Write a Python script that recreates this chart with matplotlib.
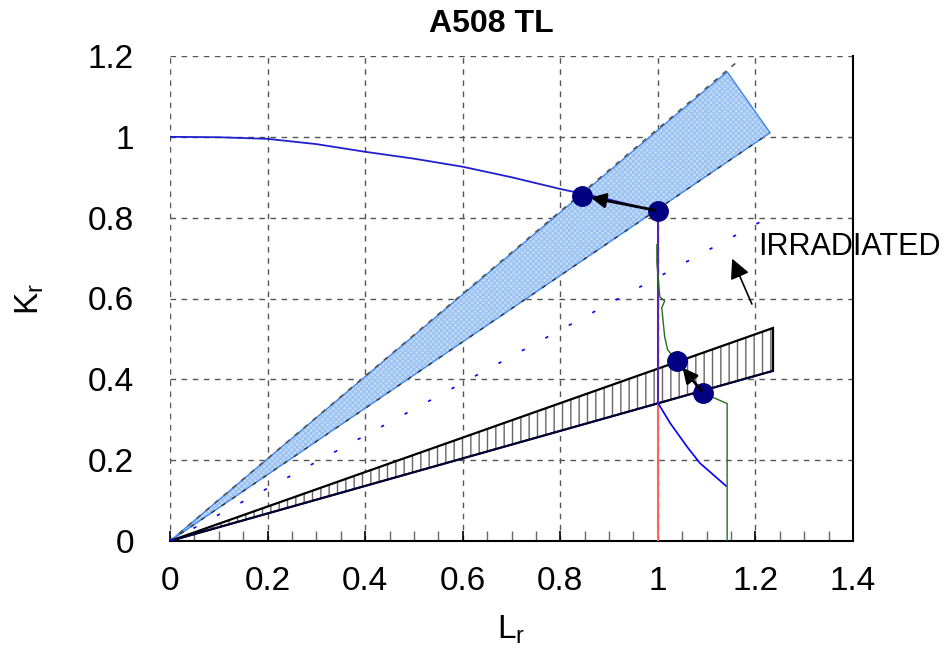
import matplotlib
matplotlib.use("Agg")
import matplotlib.pyplot as plt
import numpy as np

plt.rcParams['font.family'] = ['Liberation Sans', 'DejaVu Sans']
plt.rcParams['hatch.linewidth'] = 1.0

# FAD curve (option curve)
fad_L = [0.0, 0.1, 0.2, 0.3, 0.4, 0.5, 0.6, 0.7, 0.8, 0.9, 1.0]
fad_K = [1.0, 0.999, 0.995, 0.982, 0.963, 0.946, 0.926, 0.90, 0.871, 0.845, 0.815]
# vertical cut-off at Lr = 1
cut_L = [1.0, 1.0]
cut_K = [0.815, 0.342]
red_L = [1.0, 1.0]
red_K = [0.342, 0.0]
# lower branch beyond Lr = 1
tail_L = [1.0, 1.025, 1.06, 1.086, 1.121, 1.14]
tail_K = [0.342, 0.292, 0.233, 0.193, 0.156, 0.136]
# green path
green_L = [0.998, 0.998, 1.004, 1.014, 1.008, 1.014, 1.020, 1.039, 1.093, 1.142, 1.142]
green_K = [0.733, 0.688, 0.604, 0.594, 0.577, 0.505, 0.473, 0.446, 0.366, 0.340, 0.0]
# blue wedge (unirradiated load band)
wedge_L = [0.0, 1.142, 1.23]
wedge_K = [0.0, 1.161, 1.01]
wedge_top_L = [0.0, 1.167]
wedge_top_K = [0.0, 1.19]
# black hatched band
band_L = [0.0, 1.236, 1.236]
band_K = [0.0, 0.527, 0.421]
# irradiated dotted line
irr_L = [0.0, 1.226]
irr_K = [0.0, 0.80]
# assessment points
pts_L = [0.845, 1.0, 1.039, 1.093]
pts_K = [0.854, 0.817, 0.446, 0.366]

fig = plt.figure(figsize=(9.46, 6.57), dpi=100)
ax = fig.add_axes([170/946, 1-541/657, (853-170)/946, (541-56)/657])

# blue wedge: fill + fine light hatch + outline
ax.fill(wedge_L, wedge_K, facecolor='#c2dbf7', edgecolor='#9cc2f2', hatch='xxxxxx', linewidth=0, zorder=2)
ax.fill(wedge_L, wedge_K, facecolor='none', edgecolor='#3f86ee', linewidth=1.0, zorder=2)
ax.plot(wedge_top_L, wedge_top_K, color='#555555', linestyle=(0, (3, 4)), linewidth=1.2, zorder=3)
ax.plot([0, 1.23], [0, 1.01], color='#333333', linestyle=(0, (3, 6)), linewidth=1.0, zorder=3)

# black hatched band
ax.fill(band_L, band_K, facecolor='white', edgecolor='#666666', hatch='||', linewidth=0, zorder=2)
ax.fill(band_L, band_K, facecolor='none', edgecolor='black', linewidth=1.6, zorder=2)
ax.plot([0, 1.236], [0, 0.421], color='#000040', linewidth=1.2, zorder=3)

ax.plot(irr_L, irr_K, color='blue', linestyle=(0, (2, 14)), linewidth=1.2, zorder=3)

ax.plot(fad_L, fad_K, color='#2020d0', linewidth=1.3, zorder=4)
ax.plot(cut_L, cut_K, color='#6020b0', linewidth=1.5, zorder=4)
ax.plot(red_L, red_K, color='#ff6060', linewidth=1.5, zorder=4)
ax.plot(tail_L, tail_K, color='blue', linewidth=1.2, zorder=4)
ax.plot(green_L, green_K, color='#207020', linewidth=1.0, zorder=4)

ax.plot(pts_L, pts_K, 'o', color='#000080', markersize=14, linestyle='none', zorder=6)

ax.annotate('', xy=(pts_L[0] + 0.012, pts_K[0] - 0.003), xytext=(pts_L[1], pts_K[1]),
            arrowprops=dict(arrowstyle='-|>', color='black', lw=2, mutation_scale=22), zorder=7)
ax.annotate('', xy=(pts_L[2] + 0.008, pts_K[2] - 0.012), xytext=(pts_L[3], pts_K[3]),
            arrowprops=dict(arrowstyle='-|>', color='black', lw=2, mutation_scale=22), zorder=7)

ax.annotate('', xy=(1.15, 0.705), xytext=(1.195, 0.58),
            arrowprops=dict(arrowstyle='-|>', color='black', lw=1.2, mutation_scale=30), zorder=7)
ax.text(1.205, 0.728, 'IRRADIATED', fontsize=22, va='center', ha='left', zorder=8, clip_on=False)

ax.set_xlim(0, 1.4)
ax.set_ylim(0, 1.2)
ax.set_xticks(np.arange(0, 1.41, 0.2))
ax.set_xticklabels(['0', '0.2', '0.4', '0.6', '0.8', '1', '1.2', '1.4'])
ax.set_xticks(np.arange(0, 1.41, 0.05), minor=True)
ax.set_yticks(np.arange(0, 1.21, 0.2))
ax.set_yticklabels(['0', '0.2', '0.4', '0.6', '0.8', '1', '1.2'])
ax.tick_params(axis='x', which='major', direction='in', length=7, width=1.2, labelsize=24, pad=18)
ax.tick_params(axis='x', which='minor', direction='in', length=7, width=1.0, color='#666666')
ax.tick_params(axis='y', which='both', length=0, labelsize=24, pad=26)

ax.grid(True, which='major', color='#555555', linestyle=(0, (4, 4)), linewidth=1.0)
ax.set_axisbelow(True)
for s in ['top', 'left']:
    ax.spines[s].set_visible(False)
ax.spines['bottom'].set_linewidth(1.5)
ax.spines['right'].set_linewidth(1.5)

ax.set_xlabel('L$_\\mathregular{r}$', fontsize=24, labelpad=12)
ax.set_ylabel('K$_\\mathregular{r}$', fontsize=24, labelpad=30)

fig.text(491/946, 1-24/657, 'A508 TL', fontsize=23, fontweight='bold', ha='center', va='center')

fig.savefig('out.png', dpi=100)
